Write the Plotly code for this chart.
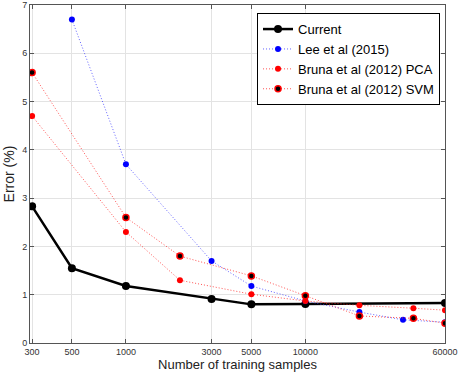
import numpy as np
import plotly.graph_objects as go

# data
current_x = [300, 500, 1000, 3000, 5000, 10000, 60000]
current_y = [2.83, 1.55, 1.18, 0.91, 0.80, 0.81, 0.83]

lee_x = [500, 1000, 3000, 5000, 10000, 20000, 35000, 60000]
lee_y = [6.7, 3.7, 1.7, 1.18, 0.87, 0.64, 0.48, 0.43]

pca_x = [300, 1000, 2000, 5000, 10000, 20000, 40000, 60000]
pca_y = [4.7, 2.3, 1.3, 1.01, 0.87, 0.78, 0.72, 0.68]

svm_x = [300, 1000, 2000, 5000, 10000, 20000, 40000, 60000]
svm_y = [5.6, 2.6, 1.8, 1.39, 0.98, 0.56, 0.51, 0.41]

x_ticks = [300, 500, 1000, 3000, 5000, 10000, 60000]
y_ticks = [0, 1, 2, 3, 4, 5, 6, 7]

fig = go.Figure()

fig.add_trace(go.Scatter(
    x=current_x, y=current_y, mode='lines+markers', name='Current',
    line=dict(color='black', width=2.5),
    marker=dict(color='black', size=8),
))
fig.add_trace(go.Scatter(
    x=lee_x, y=lee_y, mode='lines+markers', name='Lee et al (2015)',
    line=dict(color='rgba(60,60,255,0.8)', width=1, dash='1px,2px'),
    marker=dict(color='blue', size=6),
))
fig.add_trace(go.Scatter(
    x=pca_x, y=pca_y, mode='lines+markers', name='Bruna et al (2012) PCA',
    line=dict(color='rgba(255,40,40,0.8)', width=1, dash='1px,2px'),
    marker=dict(color='red', size=6),
))
fig.add_trace(go.Scatter(
    x=svm_x, y=svm_y, mode='lines+markers', name='Bruna et al (2012) SVM',
    line=dict(color='rgba(255,40,40,0.8)', width=1, dash='1px,2px'),
    marker=dict(color='black', size=6, line=dict(color='red', width=1.5)),
))

axis_common = dict(
    showline=True, linecolor='#555555', linewidth=1, mirror='ticks',
    ticks='inside', ticklen=4, tickcolor='#555555',
    showgrid=True, gridcolor='#e3e3e3', gridwidth=1, zeroline=False,
    tickfont=dict(size=9, color='#333333'), automargin=False,
)

fig.update_xaxes(
    type='log', range=[np.log10(292), np.log10(60000)],
    tickvals=x_ticks, ticktext=[str(v) for v in x_ticks],
    title=dict(text='Number of training samples', font=dict(size=13, color='#222222'), standoff=2),
    **axis_common,
)
fig.update_yaxes(
    range=[0, 7], tickvals=y_ticks,
    title=dict(text='Error (%)', font=dict(size=14, color='#222222'), standoff=4),
    **axis_common,
)

fig.update_layout(
    width=459, height=374,
    margin=dict(l=30, r=14, t=5, b=31),
    paper_bgcolor='white', plot_bgcolor='white',
    font=dict(family='Liberation Sans, Arial, sans-serif'),
    legend=dict(
        x=0.988, y=0.976, xanchor='right', yanchor='top',
        bgcolor='white', bordercolor='black', borderwidth=1,
        font=dict(size=13, color='black'),
        tracegroupgap=0, itemwidth=30,
    ),
)

fig.write_html("out.html", config={'displayModeBar': False},
               post_script="document.body.style.margin='0';")
